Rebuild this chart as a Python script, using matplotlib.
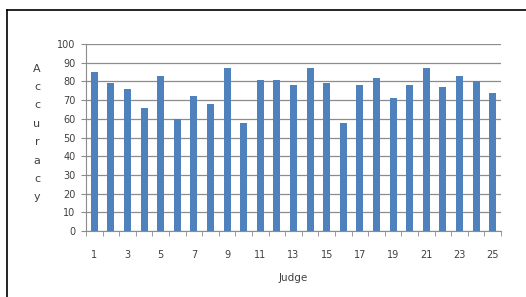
import matplotlib
matplotlib.use("Agg")
import matplotlib.pyplot as plt
from matplotlib.lines import Line2D

# data
judges = list(range(1, 26))
accuracy = [85, 79, 76, 66, 83, 60, 72, 68, 87, 58, 81, 81, 78,
            87, 79, 58, 78, 82, 71, 78, 87, 77, 83, 80, 74]
yticks = list(range(0, 101, 10))
xlabels = [str(j) for j in judges if j % 2 == 1]

plt.rcParams['font.family'] = ['DejaVu Sans']
txt = '#404040'
grid = '#8c8c8c'

fig = plt.figure(figsize=(5.26, 2.97), dpi=100)
ax = fig.add_axes([86/526, 1 - 231/297, (501-86)/526, (231-44)/297])

ax.bar(judges, accuracy, width=0.42, color='#4f81bd', zorder=3)
ax.set_xlim(0.5, 25.5)
ax.set_ylim(0, 100)
ax.set_yticks(yticks)
ax.yaxis.grid(True, color=grid, linewidth=0.9, zorder=0)

ax.set_xticks([j for j in judges if j % 2 == 1])
ax.set_xticklabels(xlabels)
ax.set_xticks([j + 0.5 for j in range(0, 26)], minor=True)
ax.tick_params(axis='x', which='major', length=0, pad=14, labelsize=7, labelcolor=txt)
ax.tick_params(axis='x', which='minor', length=3.5, direction='out', color=grid)
ax.tick_params(axis='y', length=3.5, color=grid, labelsize=7, labelcolor=txt, pad=4)

for s in ['top', 'right']:
    ax.spines[s].set_visible(False)
ax.spines['left'].set_color(grid)
ax.spines['bottom'].set_color(grid)

ax.set_xlabel('Judge', fontsize=7.5, color=txt, labelpad=9)
fig.text(37/526, 1 - 133/297, '\n'.join('Accuracy'), fontsize=8, color=txt,
         ha='center', va='center', linespacing=2.05)

# outer frame (top and left edges visible)
fig.add_artist(Line2D([7/526, 1], [1 - 10/297, 1 - 10/297], color='black', linewidth=1.2))
fig.add_artist(Line2D([7/526, 7/526], [0, 1 - 10/297], color='black', linewidth=1.2))

fig.savefig('out.png', dpi=100)
